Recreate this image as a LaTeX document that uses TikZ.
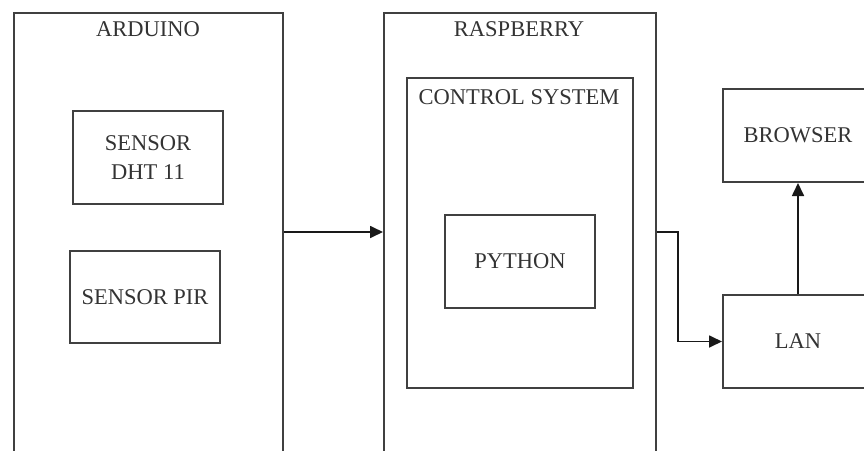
\documentclass[tikz,border=0pt]{standalone}
\usepackage{fontspec}
\setmainfont{Liberation Serif}
\usetikzlibrary{arrows.meta,positioning}

\begin{document}
\begin{tikzpicture}[x=1pt,y=-1pt,
  blok/.style={draw=black!75,line width=2pt,inner sep=0pt,anchor=north west,
    align=center,text=black!80,font=\fontsize{22.5}{29}\selectfont},
  judul/.style={inner sep=0pt,text=black!80,font=\fontsize{22.5}{26}\selectfont},
  panah/.style={line width=1.7pt,draw=black!90,-{Triangle[length=13pt,width=12pt]}}]
  \clip (0,0) rectangle (864,450);
  % kotak luar
  \node[blok,minimum width=269pt,minimum height=470pt] (arduino) at (13,12) {};
  \node[judul] (arduinotxt) at (148,29) {ARDUINO};
  \node[blok,minimum width=150pt,minimum height=93pt] (dht) at (72,110) {SENSOR\\DHT 11};
  \node[blok,minimum width=150pt,minimum height=92pt] (pir) at (69,250) {SENSOR PIR};
  \node[blok,minimum width=272pt,minimum height=470pt] (raspberry) at (383,12) {};
  \node[judul] (raspberrytxt) at (519,29) {RASPBERRY};
  \node[blok,minimum width=226pt,minimum height=310pt] (control) at (406,77) {};
  \node[judul] (controltxt) at (519,97) {CONTROL SYSTEM};
  \node[blok,minimum width=150pt,minimum height=93pt] (python) at (444,214) {PYTHON};
  \node[blok,minimum width=150pt,minimum height=93pt] (browser) at (722,88) {BROWSER};
  \node[blok,minimum width=150pt,minimum height=93pt] (lan) at (722,294) {LAN};
  \coordinate (jalur) at (0,232);
  % panah
  \draw[panah] (arduino.east |- jalur) -- (raspberry.west |- jalur);
  \draw[panah] (raspberry.east |- jalur) -- ++(21,0) |- (lan.west);
  \draw[panah] (lan.north) -- (browser.south);
\end{tikzpicture}
\end{document}
